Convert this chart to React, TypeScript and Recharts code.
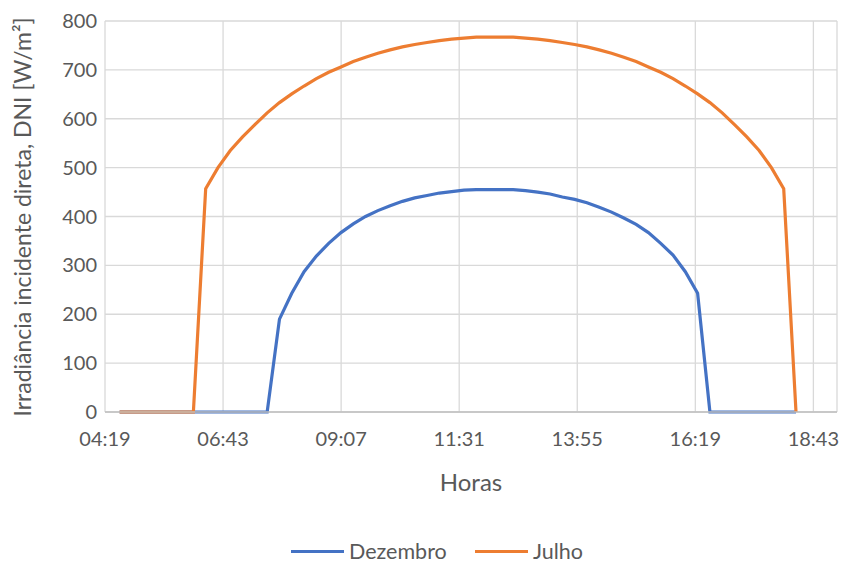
import {
  CartesianGrid,
  Label,
  Legend,
  Line,
  LineChart,
  XAxis,
  YAxis,
} from "recharts";

// 15-minute samples over the day
const hours = [
  "04:37", "04:52", "05:07", "05:22", "05:37", "05:52", "06:07", "06:22",
  "06:37", "06:52", "07:07", "07:22", "07:37", "07:52", "08:07", "08:22",
  "08:37", "08:52", "09:07", "09:22", "09:37", "09:52", "10:07", "10:22",
  "10:37", "10:52", "11:07", "11:22", "11:37", "11:52", "12:07", "12:22",
  "12:37", "12:52", "13:07", "13:22", "13:37", "13:52", "14:07", "14:22",
  "14:37", "14:52", "15:07", "15:22", "15:37", "15:52", "16:07", "16:22",
  "16:37", "16:52", "17:07", "17:22", "17:37", "17:52", "18:07", "18:22",
];

// DNI [W/m²]
const dezembro = [
  0, 0, 0, 0, 0, 0, 0, 0, 0, 0, 0, 0, 0,
  190, 243, 287, 319, 345, 367, 385, 400, 412, 422, 431, 438, 443, 448, 451,
  454, 455, 455, 455, 455, 453, 450, 446, 440, 435, 428, 419, 409, 397, 384,
  367, 345, 321, 287, 243,
  0, 0, 0, 0, 0, 0, 0, 0,
];

const julho = [
  0, 0, 0, 0, 0, 0, 0,
  457, 500, 535, 563, 588, 612, 633, 651, 667, 682, 695, 706, 717, 726, 734,
  741, 747, 752, 756, 760, 763, 765, 767, 767,
  767, 767, 765, 763, 760, 756, 752, 747, 741, 734, 726, 717, 706, 695, 682,
  667, 651, 633, 612, 588, 563, 535, 500, 457,
  0,
];

// x axis in fractions of a day (Excel time serials)
const xTicks = [0.18, 0.28, 0.38, 0.48, 0.58, 0.68, 0.78];
const yTicks = [0, 100, 200, 300, 400, 500, 600, 700, 800];

const toDayFraction = (hhmm: string) => {
  const [h, m] = hhmm.split(":").map(Number);
  return (h * 60 + m) / 1440;
};

const formatTime = (v: number) => {
  const mins = Math.round(v * 1440);
  const h = Math.floor(mins / 60);
  const m = mins % 60;
  return `${String(h).padStart(2, "0")}:${String(m).padStart(2, "0")}`;
};

const data = hours.map((h, i) => ({
  t: toDayFraction(h),
  Dezembro: dezembro[i],
  Julho: julho[i],
}));

const BLUE = "#4472C4";
const ORANGE = "#ED7D31";
const TEXT = "#595959";

const legendItems = [
  { name: "Dezembro", color: BLUE, x: 291 },
  { name: "Julho", color: ORANGE, x: 475 },
];

const ChartLegend = () => (
  <div style={{ position: "relative", height: 26, width: 842 }}>
    {legendItems.map((it) => (
      <div key={it.name}>
        <div
          style={{
            position: "absolute",
            left: it.x,
            top: 13,
            width: 53,
            height: 3,
            background: it.color,
          }}
        />
        <span
          style={{
            position: "absolute",
            left: it.x + 58,
            top: 1,
            fontSize: 21.5,
            color: TEXT,
            lineHeight: "26px",
            whiteSpace: "nowrap",
          }}
        >
          {it.name}
        </span>
      </div>
    ))}
  </div>
);

const YTitle = () => (
  <text
    x={22}
    y={217}
    transform="rotate(-90, 22, 217)"
    textAnchor="middle"
    dominantBaseline="central"
    fill={TEXT}
    fontSize={23}
  >
    Irradiância incidente direta, DNI [W/m²]
  </text>
);

const App = () => {
  return (
    <div
      style={{
        position: "absolute",
        left: 0,
        top: 0,
        width: 842,
        height: 563,
        background: "#fff",
        fontFamily: "Lato, sans-serif",
      }}
    >
      <LineChart
        width={842}
        height={563}
        data={data}
        margin={{ top: 21, right: 5, bottom: 0, left: 0 }}
      >
        <CartesianGrid stroke="#D9D9D9" strokeWidth={1.3} />
        <XAxis
          dataKey="t"
          type="number"
          domain={[0.18, 0.8]}
          ticks={xTicks}
          tickFormatter={formatTime}
          tickLine={false}
          tickSize={0}
          tickMargin={20}
          axisLine={{ stroke: "#BFBFBF", strokeWidth: 1.3 }}
          tick={{ fill: TEXT, fontSize: 20 }}
          height={125}
          interval={0}
        >
          <Label
            value="Horas"
            position="insideTop"
            offset={62}
            fill={TEXT}
            fontSize={24}
          />
        </XAxis>
        <YAxis
          domain={[0, 800]}
          ticks={yTicks}
          tickLine={false}
          axisLine={false}
          tickSize={0}
          tickMargin={8}
          width={105}
          tick={{ fill: TEXT, fontSize: 20 }}
          interval={0}
        >
          <Label content={<YTitle />} />
        </YAxis>
        <Legend verticalAlign="bottom" content={<ChartLegend />} />
        <Line
          type="linear"
          dataKey="Dezembro"
          stroke={BLUE}
          strokeWidth={3.2}
          dot={false}
          isAnimationActive={false}
        />
        <Line
          type="linear"
          dataKey="Julho"
          stroke={ORANGE}
          strokeWidth={3.2}
          dot={false}
          isAnimationActive={false}
        />
      </LineChart>
    </div>
  );
};

export default App;
